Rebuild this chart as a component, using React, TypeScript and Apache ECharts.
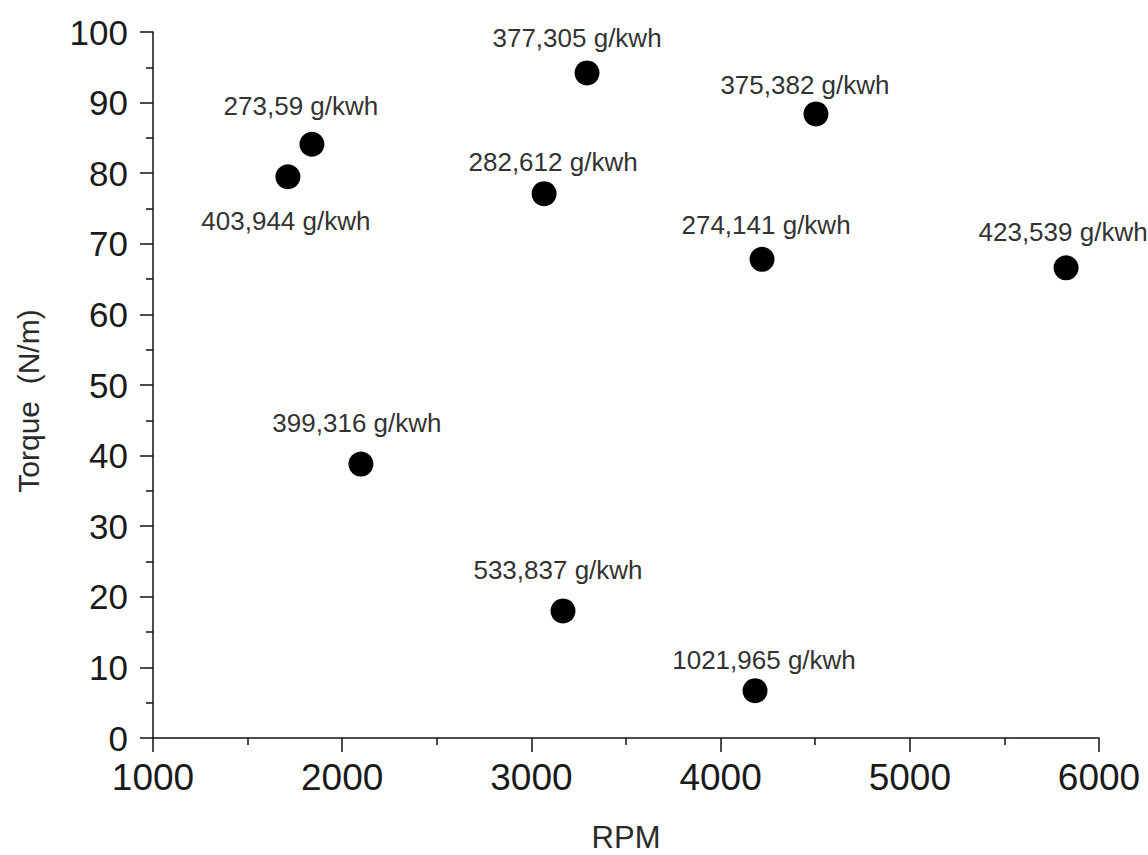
import { useEffect, useRef } from "react";
import * as echarts from "echarts";

// RPM (x) and torque (y) of each measured operating point
const rpm = [1713, 1840, 3294, 3067, 4504, 4219, 5826, 2099, 3167, 4182];
const torque = [79.5, 84.1, 94.2, 77.1, 88.4, 67.8, 66.6, 38.8, 18.0, 6.7];
// specific fuel consumption label of each point
const consumption = [
  "403,944 g/kwh",
  "273,59 g/kwh",
  "377,305 g/kwh",
  "282,612 g/kwh",
  "375,382 g/kwh",
  "274,141 g/kwh",
  "423,539 g/kwh",
  "399,316 g/kwh",
  "533,837 g/kwh",
  "1021,965 g/kwh",
];

// layout: label offset from its point (pixels)
const labelOffsets: number[][] = [
  [-2, 44],
  [-11, -38],
  [-10, -35],
  [9, -32],
  [-11, -29],
  [4, -34],
  [-3, -36],
  [-4, -41],
  [-5, -41],
  [9, -31],
];

const FONT = "'Liberation Sans', Arial, sans-serif";

export default function App() {
  const ref = useRef<HTMLDivElement>(null);
  useEffect(() => {
    if (!ref.current) return;
    const chart = echarts.init(ref.current, null, { renderer: "svg" });
    const data = rpm.map((x, i) => ({
      name: consumption[i],
      value: [x, torque[i]],
    }));
    chart.setOption({
      animation: false,
      backgroundColor: "#ffffff",
      grid: {
        left: 153,
        right: 49,
        top: 32,
        bottom: 117,
        containLabel: false,
        outerBoundsMode: "none",
      },
      xAxis: {
        type: "value",
        min: 1000,
        max: 6000,
        interval: 1000,
        name: "RPM",
        nameLocation: "middle",
        nameGap: 84,
        nameTextStyle: { fontFamily: FONT, fontSize: 31, lineHeight: 31, color: "#2a2a2a" },
        axisLine: { show: true, onZero: false, lineStyle: { color: "#111", width: 1.5 } },
        axisTick: { show: true, inside: false, length: 14, lineStyle: { color: "#111", width: 1.5 } },
        minorTick: { show: true, splitNumber: 2, length: 7, lineStyle: { color: "#111", width: 1.5 } },
        splitLine: { show: false },
        minorSplitLine: { show: false },
        axisLabel: {
          margin: 21,
          fontFamily: FONT,
          fontSize: 37,
          color: "#1a1a1a",
          formatter: (v: number) => String(v),
        },
      },
      yAxis: {
        type: "value",
        min: 0,
        max: 100,
        interval: 10,
        name: "Torque  (N/m)",
        nameLocation: "middle",
        nameRotate: 90,
        nameGap: 110,
        nameTextStyle: { fontFamily: FONT, fontSize: 30, color: "#2a2a2a", padding: [0, 32, 0, 0] },
        axisLine: { show: true, onZero: false, lineStyle: { color: "#111", width: 1.5 } },
        axisTick: { show: true, inside: false, length: 13, lineStyle: { color: "#111", width: 1.5 } },
        minorTick: { show: true, splitNumber: 2, length: 7, lineStyle: { color: "#111", width: 1.5 } },
        splitLine: { show: false },
        minorSplitLine: { show: false },
        axisLabel: {
          margin: 25,
          fontFamily: FONT,
          fontSize: 35,
          color: "#1a1a1a",
          formatter: (v: number) => String(v),
        },
      },
      series: [
        {
          type: "scatter",
          symbol: "circle",
          symbolSize: 25,
          itemStyle: { color: "#000000", opacity: 1 },
          data,
          label: {
            show: true,
            position: "inside",
            formatter: "{b}",
            fontFamily: FONT,
            fontSize: 26,
            color: "#333333",
          },
          labelLayout: (params: any) => {
            const o = labelOffsets[params.dataIndex] || [0, 0];
            return { dx: o[0], dy: o[1], hideOverlap: false };
          },
        },
      ],
    });
    return () => chart.dispose();
  }, []);
  return (
    <div
      ref={ref}
      style={{ position: "fixed", left: 0, top: 0, width: 1148, height: 855, background: "#fff" }}
    />
  );
}
